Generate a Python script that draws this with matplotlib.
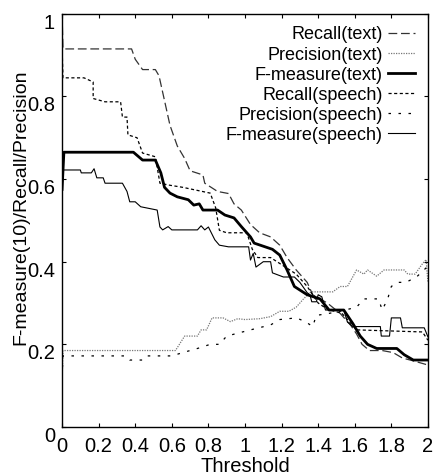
import matplotlib
matplotlib.use("Agg")
import matplotlib.pyplot as plt

# threshold / value pairs
recall_text_x = [0, 0.005, 0.38, 0.40, 0.44, 0.51, 0.53, 0.56, 0.59, 0.63,
                 0.67, 0.70, 0.77, 0.78, 0.85, 0.91, 0.94, 0.98, 1.03, 1.08,
                 1.14, 1.19, 1.23, 1.28, 1.34, 1.37, 1.45, 1.52, 1.58, 1.61,
                 1.64, 1.68, 1.75, 1.81, 1.86, 1.92, 1.96, 2.0]
recall_text_y = [1.0, 0.915, 0.915, 0.89, 0.865, 0.865, 0.85, 0.79, 0.73, 0.68,
                 0.65, 0.62, 0.61, 0.59, 0.57, 0.565, 0.54, 0.525, 0.49, 0.47,
                 0.46, 0.44, 0.41, 0.38, 0.35, 0.32, 0.30, 0.275, 0.245, 0.225,
                 0.20, 0.185, 0.185, 0.18, 0.167, 0.16, 0.155, 0.15]

prec_text_x = [0, 0.005, 0.62, 0.67, 0.74, 0.76, 0.79, 0.82, 0.88, 0.92,
               0.96, 1.0, 1.08, 1.14, 1.19, 1.24, 1.28, 1.32, 1.36, 1.48,
               1.52, 1.56, 1.61, 1.65, 1.67, 1.72, 1.76, 1.87, 1.89, 1.93,
               1.97, 1.99, 2.0]
prec_text_y = [0.11, 0.185, 0.185, 0.22, 0.22, 0.235, 0.235, 0.264, 0.264, 0.255,
               0.262, 0.26, 0.262, 0.267, 0.28, 0.28, 0.29, 0.31, 0.327, 0.327,
               0.34, 0.34, 0.38, 0.37, 0.38, 0.365, 0.38, 0.38, 0.37, 0.37,
               0.395, 0.405, 0.35]

f_text_x = [0, 0.01, 0.39, 0.44, 0.51, 0.54, 0.56, 0.59, 0.63, 0.69,
            0.72, 0.75, 0.77, 0.85, 0.89, 0.94, 0.98, 1.03, 1.05, 1.11,
            1.15, 1.19, 1.23, 1.27, 1.34, 1.41, 1.46, 1.54, 1.59, 1.63,
            1.67, 1.72, 1.83, 1.87, 1.92, 2.0]
f_text_y = [0.575, 0.665, 0.665, 0.646, 0.646, 0.615, 0.58, 0.566, 0.557, 0.55,
            0.537, 0.54, 0.525, 0.525, 0.513, 0.506, 0.485, 0.46, 0.445, 0.436,
            0.43, 0.416, 0.38, 0.34, 0.32, 0.31, 0.283, 0.283, 0.25, 0.22,
            0.20, 0.19, 0.19, 0.175, 0.162, 0.162]

recall_sp_x = [0, 0.005, 0.12, 0.17, 0.17, 0.235, 0.32, 0.33, 0.355, 0.36,
               0.41, 0.44, 0.51, 0.535, 0.59, 0.66, 0.81, 0.84, 0.86, 0.90,
               1.01, 1.04, 1.07, 1.14, 1.21, 1.28, 1.34, 1.40, 1.45, 1.53,
               1.58, 1.61, 1.97, 2.0]
recall_sp_y = [0.92, 0.845, 0.845, 0.835, 0.795, 0.787, 0.787, 0.75, 0.75, 0.707,
               0.70, 0.663, 0.654, 0.59, 0.585, 0.58, 0.566, 0.53, 0.476, 0.47,
               0.47, 0.43, 0.41, 0.41, 0.39, 0.37, 0.34, 0.30, 0.285, 0.275,
               0.25, 0.235, 0.23, 0.21]

prec_sp_x = [0, 0.005, 0.35, 0.37, 0.44, 0.46, 0.60, 0.66, 0.74, 0.81,
             0.86, 0.90, 1.03, 1.14, 1.19, 1.28, 1.33, 1.37, 1.39, 1.46,
             1.52, 1.61, 1.65, 1.73, 1.75, 1.78, 1.80, 1.83, 1.88, 1.94,
             1.99, 2.0]
prec_sp_y = [0.12, 0.172, 0.172, 0.162, 0.162, 0.172, 0.172, 0.18, 0.19, 0.20,
             0.20, 0.22, 0.235, 0.247, 0.26, 0.264, 0.255, 0.243, 0.27, 0.275,
             0.28, 0.29, 0.31, 0.31, 0.283, 0.31, 0.34, 0.35, 0.35, 0.364,
             0.385, 0.39]

f_sp_x = [0, 0.005, 0.10, 0.105, 0.16, 0.175, 0.19, 0.225, 0.235, 0.33,
          0.355, 0.37, 0.40, 0.43, 0.52, 0.535, 0.55, 0.58, 0.60, 0.68,
          0.74, 0.76, 0.78, 0.80, 0.835, 0.86, 0.91, 1.02, 1.03, 1.045,
          1.06, 1.10, 1.14, 1.15, 1.21, 1.27, 1.30, 1.34, 1.355, 1.365,
          1.39, 1.40, 1.42, 1.44, 1.54, 1.56, 1.59, 1.74, 1.745, 1.79,
          1.80, 1.85, 1.86, 1.98, 2.0]
f_sp_y = [0.575, 0.622, 0.622, 0.615, 0.615, 0.625, 0.603, 0.603, 0.59, 0.59,
          0.57, 0.545, 0.545, 0.533, 0.525, 0.484, 0.477, 0.485, 0.477, 0.477,
          0.477, 0.487, 0.477, 0.484, 0.453, 0.44, 0.436, 0.436, 0.404, 0.42,
          0.387, 0.40, 0.40, 0.373, 0.363, 0.363, 0.35, 0.325, 0.32, 0.303,
          0.303, 0.32, 0.315, 0.283, 0.283, 0.254, 0.243, 0.243, 0.22, 0.22,
          0.264, 0.264, 0.24, 0.24, 0.218]

x_ticks = [0, 0.2, 0.4, 0.6, 0.8, 1, 1.2, 1.4, 1.6, 1.8, 2]
x_tick_labels = ["0", "0.2", "0.4", "0.6", "0.8", "1", "1.2", "1.4", "1.6", "1.8", "2"]
y_ticks = [0, 0.2, 0.4, 0.6, 0.8, 1]
y_tick_labels = ["0", "0.2", "0.4", "0.6", "0.8", "1"]

plt.rcParams['font.family'] = ['Liberation Sans', 'DejaVu Sans']
plt.rcParams['font.size'] = 13

fig = plt.figure(figsize=(4.34, 4.76), dpi=100)
ax = fig.add_axes([0.143, 0.103, 0.843, 0.868])

ax.plot(recall_text_x, recall_text_y, color='#333333', lw=0.9,
        linestyle=(0, (7, 3)), label='Recall(text)')
ax.plot(prec_text_x, prec_text_y, color='#777777', lw=0.9,
        linestyle=(0, (1, 1)), label='Precision(text)')
ax.plot(f_text_x, f_text_y, color='black', lw=2.0, label='F-measure(text)')
ax.plot(recall_sp_x, recall_sp_y, color='black', lw=0.9,
        linestyle=(0, (2.5, 2)), label='Recall(speech)')
ax.plot(prec_sp_x, prec_sp_y, color='black', lw=0.9,
        linestyle=(0, (2, 6)), label='Precision(speech)')
ax.plot(f_sp_x, f_sp_y, color='black', lw=0.8, label='F-measure(speech)')

ax.set_xlim(0, 2)
ax.set_ylim(0, 1)
ax.set_xticks(x_ticks)
ax.set_xticklabels(x_tick_labels, fontsize=14.5)
ax.set_yticks(y_ticks)
ax.set_yticklabels(y_tick_labels, fontsize=14.5, va='top')
ax.tick_params(direction='in', length=3, width=0.8, top=True, right=True)
ax.tick_params(axis='x', pad=7)
ax.tick_params(axis='y', pad=5)
for s in ax.spines.values():
    s.set_linewidth(1.0)

ax.set_xlabel('Threshold', fontsize=14.5, labelpad=1)
ax.set_ylabel('F-measure(10)/Recall/Precision', fontsize=14)
ax.yaxis.set_label_coords(-0.09, 0.533)

ax.legend(loc='upper right', markerfirst=False, frameon=False,
          handlelength=1.5, handletextpad=0.3, labelspacing=0.17,
          borderaxespad=0.3, fontsize=13)

fig.savefig('out.png', dpi=100)
